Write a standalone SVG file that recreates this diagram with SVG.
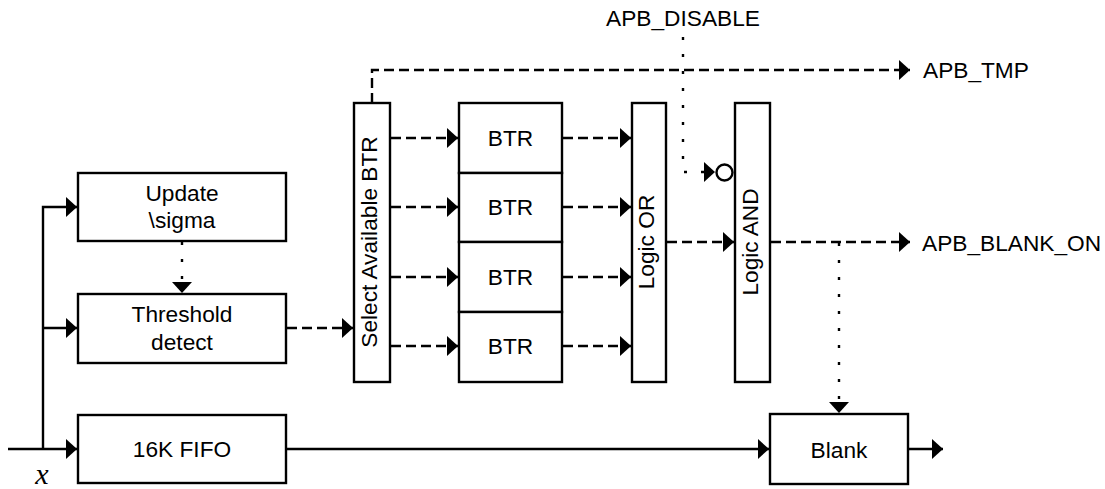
<svg xmlns="http://www.w3.org/2000/svg" width="1105" height="489" viewBox="0 0 1105 489">
<style>
.box{fill:#fff;stroke:#000;stroke-width:2.4}
.t{font-family:"Liberation Sans",Arial,sans-serif;font-size:22.7px;fill:#000;text-anchor:middle}
.tl{font-family:"Liberation Sans",Arial,sans-serif;font-size:22.7px;fill:#000}
.c{fill:none;stroke:#000;stroke-width:2.4}
.dash{stroke-dasharray:10 5}
.dot{stroke-dasharray:3 14}
</style>
<defs>
<marker id="ah" viewBox="0 0 11 20" refX="11" refY="10" markerWidth="11" markerHeight="20" markerUnits="userSpaceOnUse" orient="auto">
<path d="M0,0 L11,10 L0,20 Z" fill="#000"/>
</marker>
</defs>
<rect width="1105" height="489" fill="#fff"/>
<g id="connectors">
<path class="c" d="M8,449 H77" marker-end="url(#ah)"/>
<path class="c" d="M43,449 V207 H77" marker-end="url(#ah)"/>
<path class="c" d="M43,328 H77" marker-end="url(#ah)"/>
<path class="c dot" d="M182,242 V293" marker-end="url(#ah)"/>
<path class="c dash" d="M287,328 H353" marker-end="url(#ah)"/>
<path class="c dash" d="M391,138 H458" marker-end="url(#ah)"/>
<path class="c dash" d="M391,207 H458" marker-end="url(#ah)"/>
<path class="c dash" d="M391,277 H458" marker-end="url(#ah)"/>
<path class="c dash" d="M391,346 H458" marker-end="url(#ah)"/>
<path class="c dash" d="M563,138 H631" marker-end="url(#ah)"/>
<path class="c dash" d="M563,207 H631" marker-end="url(#ah)"/>
<path class="c dash" d="M563,277 H631" marker-end="url(#ah)"/>
<path class="c dash" d="M563,346 H631" marker-end="url(#ah)"/>
<path class="c dash" d="M667,242 H734" marker-end="url(#ah)"/>
<path class="c dash" d="M771,242 H910" marker-end="url(#ah)"/>
<path class="c dash" d="M372,103 V70 H910" marker-end="url(#ah)"/>
<path class="c dot" d="M683,37 V172 H715" marker-end="url(#ah)"/>
<circle cx="724.5" cy="172.5" r="8" fill="#fff" stroke="#000" stroke-width="2.4"/>
<path class="c dot" d="M839,243 V413" marker-end="url(#ah)"/>
<path class="c" d="M287,449 H769" marker-end="url(#ah)"/>
<path class="c" d="M909,449 H943" marker-end="url(#ah)"/>
</g>
<g id="update">
<rect class="box" x="78" y="173" width="208" height="68"/>
<text class="t" x="182" y="201">Update</text>
<text class="t" x="182" y="228">\sigma</text>
</g>
<g id="threshold">
<rect class="box" x="78" y="294" width="208" height="69"/>
<text class="t" x="182" y="322">Threshold</text>
<text class="t" x="182" y="350">detect</text>
</g>
<g id="fifo">
<rect class="box" x="78" y="415" width="208" height="68"/>
<text class="t" x="182" y="457">16K FIFO</text>
</g>
<g id="select">
<rect class="box" x="354" y="103" width="36" height="279"/>
<text class="t" transform="translate(372,242) rotate(-90)" x="0" y="5">Select Available BTR</text>
</g>
<g id="btr1">
<rect class="box" x="459" y="103" width="103" height="70"/>
<text class="t" x="510.5" y="146">BTR</text>
</g>
<g id="btr2">
<rect class="box" x="459" y="173" width="103" height="69"/>
<text class="t" x="510.5" y="215">BTR</text>
</g>
<g id="btr3">
<rect class="box" x="459" y="242" width="103" height="70"/>
<text class="t" x="510.5" y="285">BTR</text>
</g>
<g id="btr4">
<rect class="box" x="459" y="312" width="103" height="70"/>
<text class="t" x="510.5" y="354">BTR</text>
</g>
<g id="logic-or">
<rect class="box" x="632" y="103" width="34" height="279"/>
<text class="t" transform="translate(649,242) rotate(-90)" x="0" y="5">Logic OR</text>
</g>
<g id="logic-and">
<rect class="box" x="735" y="103" width="35" height="279"/>
<text class="t" transform="translate(752.5,242) rotate(-90)" x="0" y="5">Logic AND</text>
</g>
<g id="blank">
<rect class="box" x="770" y="414" width="138" height="70"/>
<text class="t" x="839" y="458">Blank</text>
</g>
<g id="labels">
<text class="t" x="683" y="26">APB_DISABLE</text>
<text class="tl" x="923" y="78">APB_TMP</text>
<text class="tl" x="922" y="251">APB_BLANK_ON</text>
<text x="42" y="484" font-family="'Liberation Serif','Times New Roman',serif" font-style="italic" font-size="30" text-anchor="middle" fill="#000">x</text>
</g>
</svg>
